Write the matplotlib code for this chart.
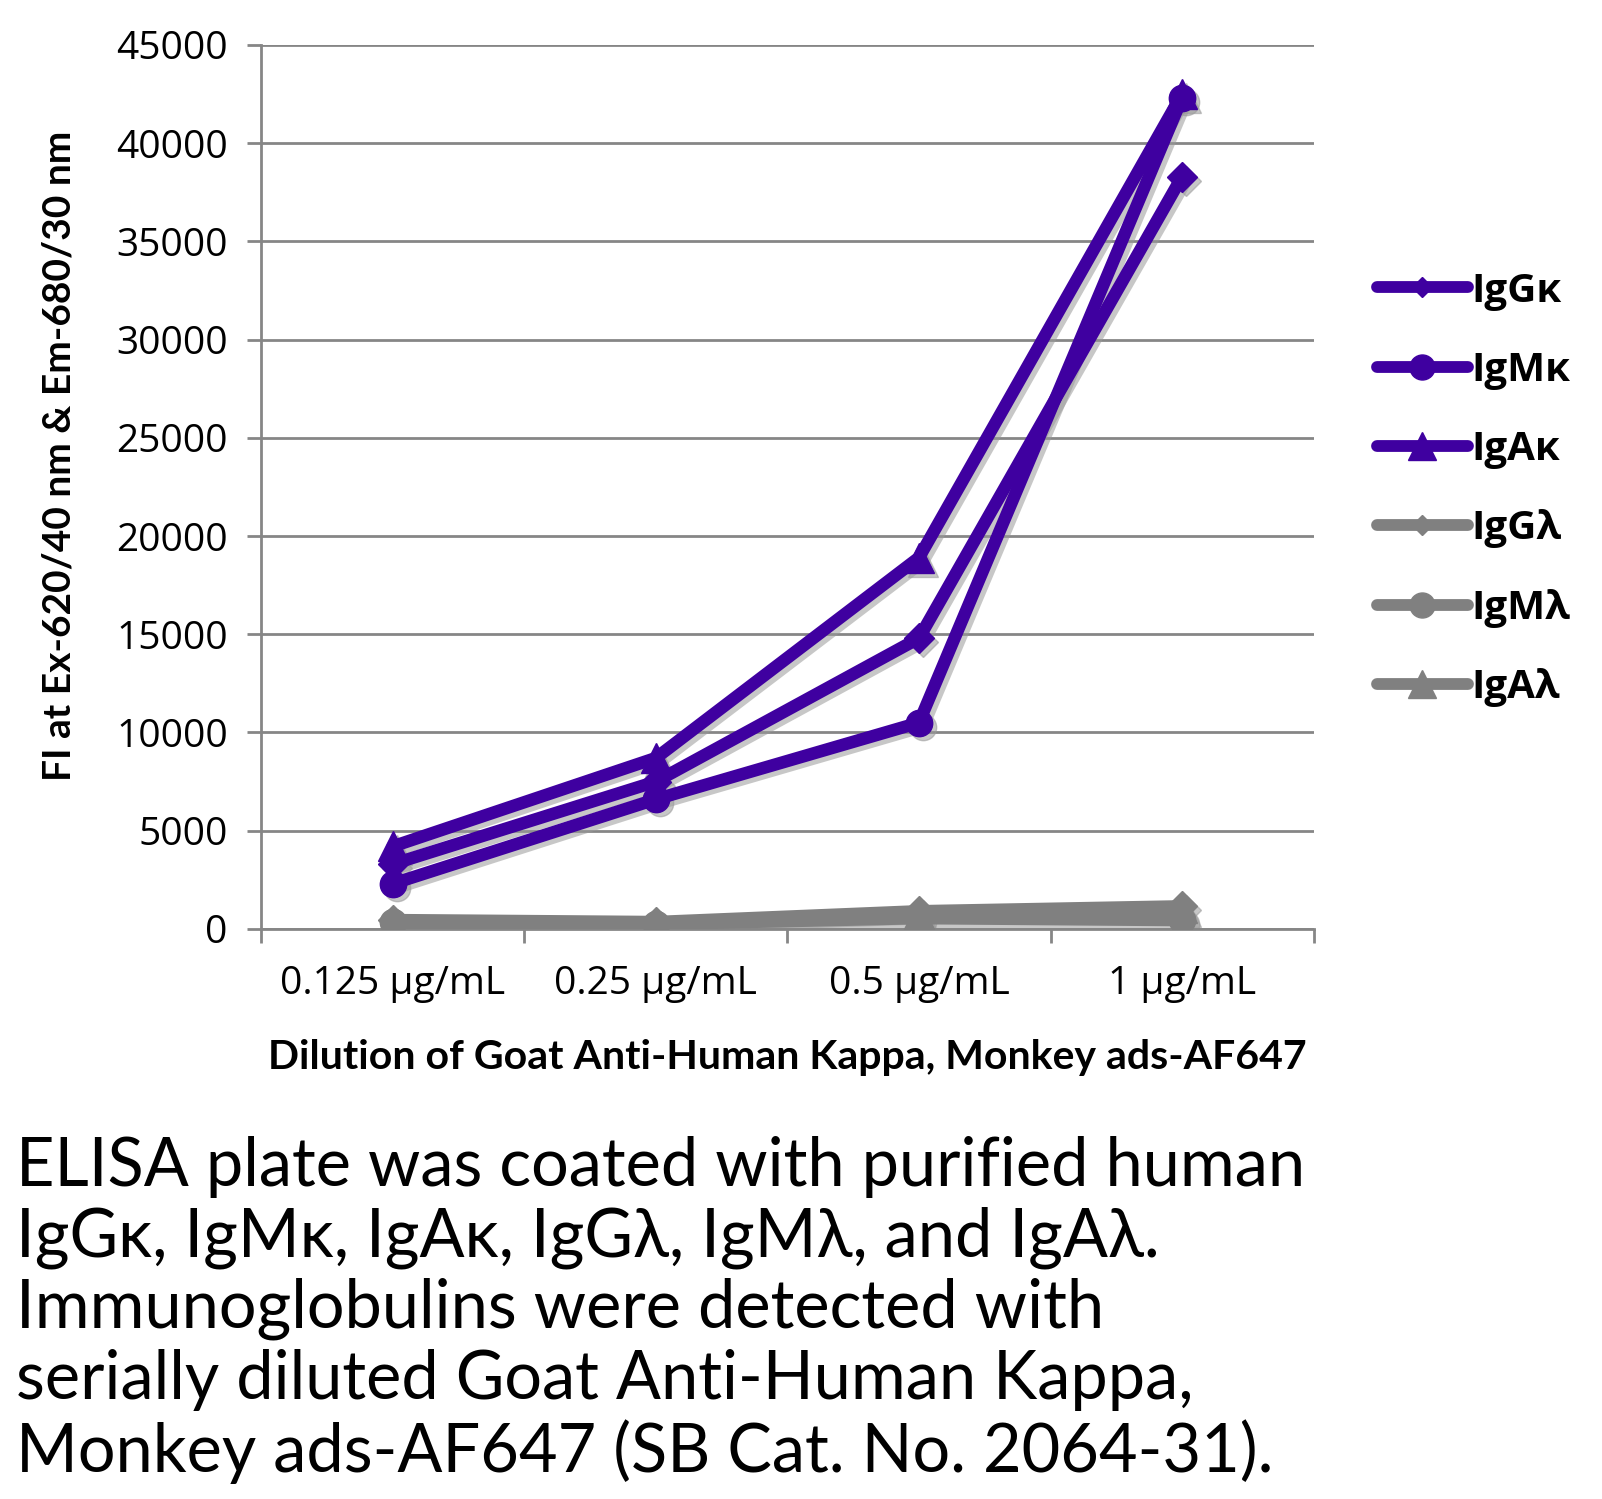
import matplotlib
matplotlib.use("Agg")
import matplotlib.pyplot as plt
import matplotlib.transforms as mtransforms
from matplotlib.lines import Line2D

# data
categories = ["0.125 µg/mL", "0.25 µg/mL", "0.5 µg/mL", "1 µg/mL"]
igg_k = [3300, 7500, 14800, 38300]
igm_k = [2300, 6600, 10500, 42300]
iga_k = [4200, 8700, 18900, 42500]
igg_l = [450, 350, 900, 1150]
igm_l = [350, 250, 550, 450]
iga_l = [300, 300, 750, 1050]

series_names = ["IgGκ", "IgMκ", "IgAκ", "IgGλ", "IgMλ", "IgAλ"]
series_vals = [igg_k, igm_k, iga_k, igg_l, igm_l, iga_l]

caption = ("ELISA plate was coated with purified human\n"
           "IgGκ, IgMκ, IgAκ, IgGλ, IgMλ, and IgAλ.\n"
           "Immunoglobulins were detected with\n"
           "serially diluted Goat Anti-Human Kappa,\n"
           "Monkey ads-AF647 (SB Cat. No. 2064-31).")

purple = "#3F00A0"
grey = "#808080"
colors = [purple, purple, purple, grey, grey, grey]
markers = ["D", "o", "^", "D", "o", "^"]
msizes = [15, 19, 21, 15, 19, 21]
leg_sizes = [10, 18, 20, 10, 18, 20]

plt.rcParams["font.family"] = ["Open Sans", "DejaVu Sans"]

fig = plt.figure(figsize=(16.02, 14.99), dpi=100)
ax = fig.add_axes([0.163, 0.3803, 0.657, 0.5897])

x = list(range(len(categories)))
shadow_tr = mtransforms.offset_copy(ax.transData, fig=fig, x=4, y=-4, units="dots")

# plot grey first so purple sits on top
order = [3, 4, 5, 0, 1, 2]
for i in order:
    ax.plot(x, series_vals[i], color="#9a9a9a", alpha=0.55, marker=markers[i],
            markersize=msizes[i], linewidth=9, solid_capstyle="round",
            transform=shadow_tr, zorder=2)
    ax.plot(x, series_vals[i], color=colors[i], marker=markers[i], markersize=msizes[i],
            linewidth=9, solid_capstyle="round", zorder=3)

# formatting
ax.set_xlim(-0.5, 3.5)
ax.set_ylim(0, 45000)
ax.set_yticks(range(0, 45001, 5000))
ax.set_yticklabels([str(v) for v in range(0, 45001, 5000)], fontsize=28)
ax.set_xticks(x)
ax.set_xticklabels(categories, fontsize=28)
ax.set_xticks([-0.5, 0.5, 1.5, 2.5, 3.5], minor=True)
ax.tick_params(axis="x", which="major", length=0, pad=26)
ax.tick_params(axis="x", which="minor", length=10, width=2, color="#868686")
ax.tick_params(axis="y", length=10, width=2, color="#868686", pad=14)

ax.yaxis.grid(True, color="#868686", linewidth=2)
ax.set_axisbelow(True)
for s in ["top", "right"]:
    ax.spines[s].set_visible(False)
ax.spines["left"].set_color("#868686")
ax.spines["left"].set_linewidth(2)
ax.spines["bottom"].set_color("#868686")
ax.spines["bottom"].set_linewidth(2)

ax.set_ylabel("FI at Ex-620/40 nm & Em-680/30 nm", fontsize=28, fontweight="bold",
              family=["Lato", "DejaVu Sans"])
ax.yaxis.set_label_coords(-0.175, 0.535)
ax.set_xlabel("Dilution of Goat Anti-Human Kappa, Monkey ads-AF647", fontsize=29.5,
              fontweight="bold", labelpad=26, family=["Lato", "DejaVu Sans"])

handles = [Line2D([0], [0], color=colors[i], marker=markers[i], markersize=leg_sizes[i],
                  linewidth=8.5, solid_capstyle="round") for i in range(6)]
fig.legend(handles, series_names, loc="upper left", bbox_to_anchor=(0.837, 0.843),
           frameon=False, handlelength=2.25, handletextpad=0.1, labelspacing=1.0,
           prop={"size": 29, "weight": "bold"})

fig.text(0.01, 0.126, caption, fontsize=48, ha="left", va="center", linespacing=1.17,
         family=["Lato", "DejaVu Sans"])

fig.savefig("out.png", dpi=100)
